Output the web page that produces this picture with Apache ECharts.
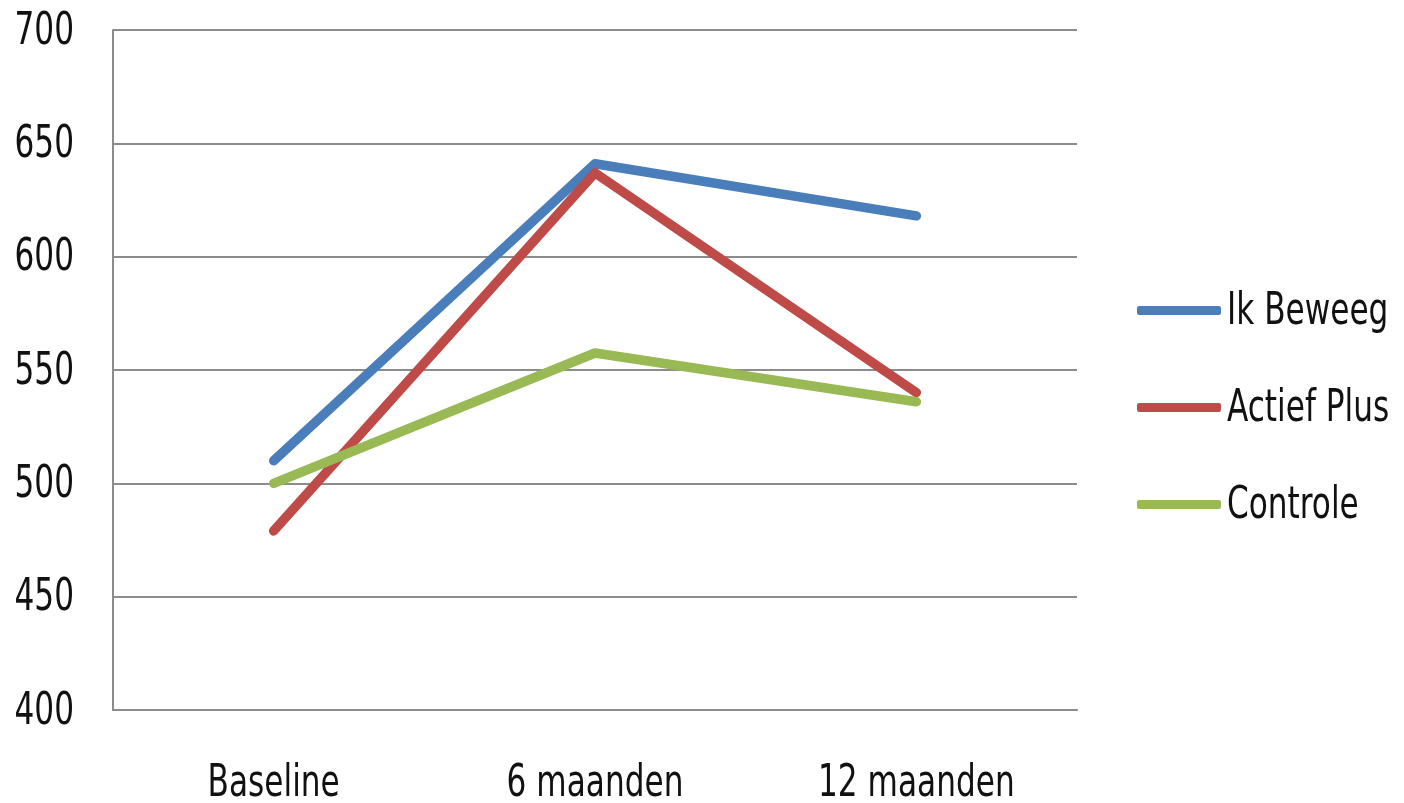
<!DOCTYPE html>
<html>
<head>
<meta charset="utf-8">
<script src="https://cdn.jsdelivr.net/npm/echarts@6/dist/echarts.min.js"></script>
<style>
  html, body { margin: 0; padding: 0; background: #fff; }
  #chart { width: 1404px; height: 803px; }
</style>
</head>
<body>
<div id="chart"></div>
<script>
// Time points on the x axis
const categories = ['Baseline', '6 maanden', '12 maanden'];

// Group means per time point
const ikBeweeg = [510, 641, 618];
const actiefPlus = [479, 637, 540];
const controle = [500, 557.5, 536];

const seriesNames = ['Ik Beweeg', 'Actief Plus', 'Controle'];
const seriesColors = ['#4a7ebb', '#be4b48', '#98b954'];

// Value axis range
const yMin = 400;
const yMax = 700;
const yStep = 50;

// Narrow, tall lettering: condensed face squeezed horizontally
const FONT_FAMILY = '"DejaVu Sans Condensed", "DejaVu Sans", sans-serif';
const FONT_SIZE = 45;
const SQUEEZE = 0.77;
const TEXT_COLOR = '#111111';

const LEGEND_LEFT = 1137;
const LEGEND_TOP = 306;
const LEGEND_ICON_W = 84;
const LEGEND_ICON_H = 9;
const LEGEND_GAP = 88;

const chart = echarts.init(document.getElementById('chart'), null, { renderer: 'canvas' });

function lineSeries(name, data, color) {
  return {
    name: name,
    type: 'line',
    data: data,
    symbol: 'none',
    showSymbol: false,
    lineStyle: { color: color, width: 9.5, cap: 'round', join: 'round' },
    itemStyle: { color: color },
    emphasis: { disabled: true }
  };
}

chart.setOption({
  animation: false,
  backgroundColor: '#ffffff',
  grid: { left: 113, right: 327, top: 30, bottom: 93, containLabel: false, outerBoundsMode: 'none' },
  xAxis: {
    type: 'category',
    data: categories,
    boundaryGap: true,
    axisLine: { show: true, lineStyle: { color: '#8c8c8c', width: 2 } },
    axisTick: { show: false },
    axisLabel: { show: false },
    splitLine: { show: false }
  },
  yAxis: {
    type: 'value',
    min: yMin,
    max: yMax,
    interval: yStep,
    axisLine: { show: true, lineStyle: { color: '#8c8c8c', width: 2 } },
    axisTick: { show: false },
    axisLabel: { show: false },
    splitLine: { show: true, lineStyle: { color: '#8c8c8c', width: 2 } }
  },
  legend: {
    orient: 'vertical',
    left: LEGEND_LEFT,
    top: LEGEND_TOP,
    padding: 0,
    icon: 'roundRect',
    itemWidth: LEGEND_ICON_W,
    itemHeight: LEGEND_ICON_H,
    itemGap: LEGEND_GAP,
    formatter: function () { return ''; },
    textStyle: { fontSize: 1 },
    selectedMode: false,
    data: seriesNames
  },
  series: seriesNames.map(function (n, i) {
    return lineSeries(n, [ikBeweeg, actiefPlus, controle][i], seriesColors[i]);
  })
});

// Squeezed text labels placed from the chart's own scales
function label(text, x, y, align) {
  return {
    type: 'text',
    x: x,
    y: y,
    scaleX: SQUEEZE,
    silent: true,
    style: {
      text: text,
      fill: TEXT_COLOR,
      fontFamily: FONT_FAMILY,
      fontSize: FONT_SIZE,
      align: align,
      verticalAlign: 'middle'
    }
  };
}

const labels = [];
for (let v = yMin; v <= yMax; v += yStep) {
  const p = chart.convertToPixel({ gridIndex: 0 }, [0, v]);
  labels.push(label(String(v), 74, p[1] + 2, 'right'));
}
categories.forEach(function (c, i) {
  const p = chart.convertToPixel({ gridIndex: 0 }, [i, yMin]);
  labels.push(label(c, p[0], p[1] + 74, 'center'));
});
seriesNames.forEach(function (n, i) {
  const cy = LEGEND_TOP + i * (LEGEND_ICON_H + LEGEND_GAP) + LEGEND_ICON_H / 2;
  labels.push(label(n, LEGEND_LEFT + LEGEND_ICON_W + 6, cy + 2, 'left'));
});

chart.setOption({ graphic: labels });
</script>
</body>
</html>
